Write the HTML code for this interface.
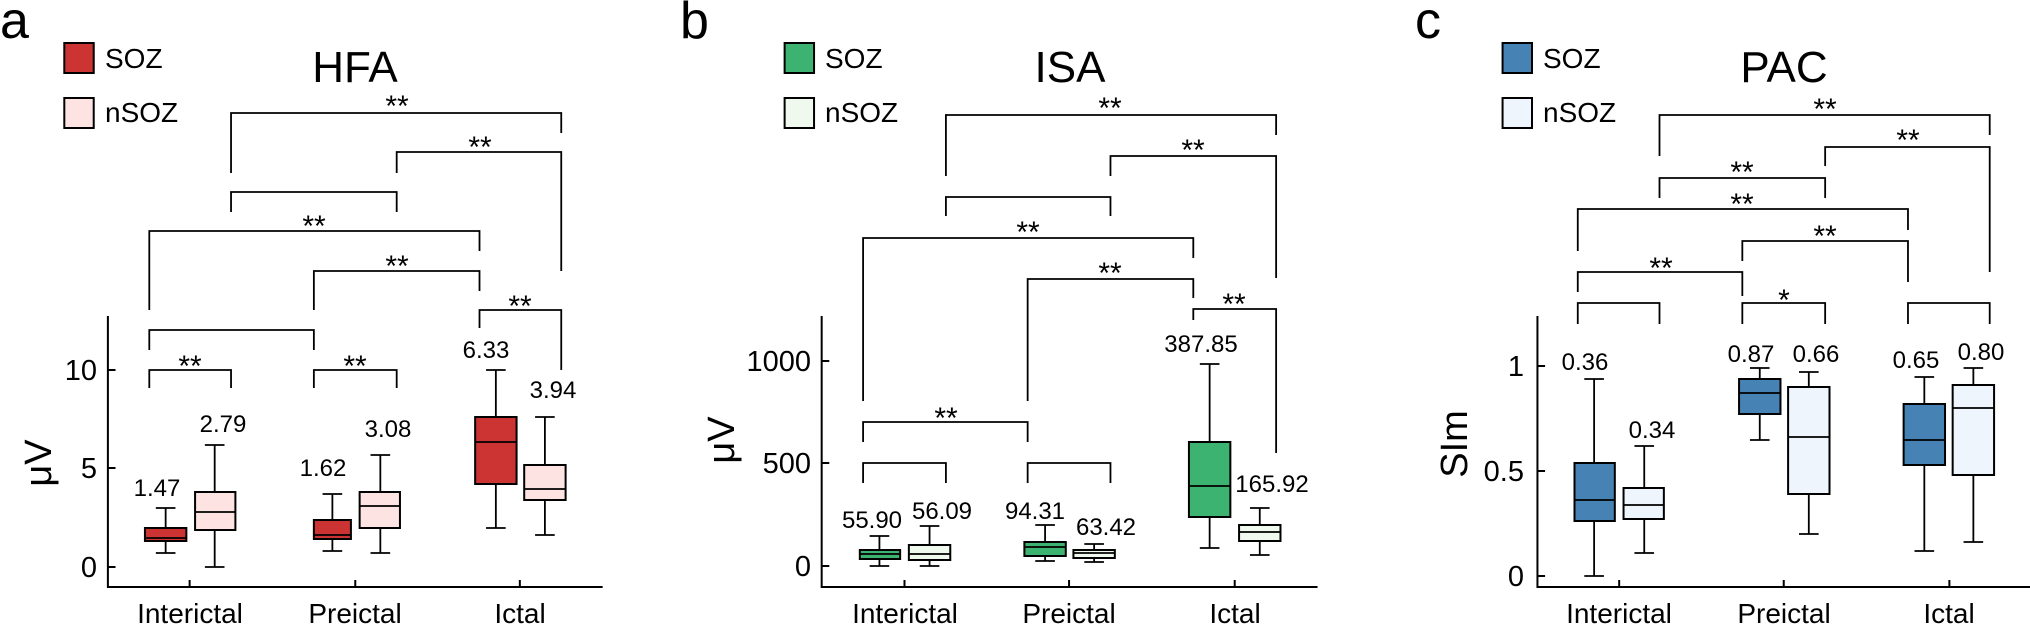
<!DOCTYPE html>
<html><head><meta charset="utf-8"><style>
html,body{margin:0;padding:0;background:#fff}
svg{display:block}
text{font-family:"Liberation Sans",Arial,sans-serif;fill:#000}
.v{font-size:24px;text-anchor:middle}
.s{font-size:30px;text-anchor:middle}
.t{font-size:29px;text-anchor:end}
.c{font-size:28px;text-anchor:middle}
.yl{font-size:38px;text-anchor:middle}
path,rect{vector-effect:non-scaling-stroke}
.br{fill:none;stroke:#000;stroke-width:1.8}
.ax{fill:none;stroke:#000;stroke-width:2}
.wh{stroke:#000;stroke-width:1.8;fill:none}
.bx{stroke:#000;stroke-width:2}
</style></head><body>
<svg width="2030" height="625" viewBox="0 0 2030 625" xmlns="http://www.w3.org/2000/svg">
<!-- ================= Panel a ================= -->
<text x="0" y="38" font-size="52">a</text>
<g transform="scale(1.0898,1)">
<rect x="59" y="43" width="27" height="30" fill="#cc3333" stroke="#000" stroke-width="2"/>
<rect x="59" y="98" width="27" height="30" fill="#fde3e1" stroke="#000" stroke-width="2"/>
<path class="ax" d="M99 316 V587 H553 M174 587 V580 M326 587 V580 M477 587 V580 M99 567 H106 M99 468 H106 M99 370 H106"/>
<path class="wh" d="M152 553 V508 M143 553 H161 M143 508 H161"/><rect class="bx" x="133" y="528" width="38" height="13" fill="#cc3333"/><path class="wh" d="M133 538 H171"/>
<path class="wh" d="M197 567 V445 M188 567 H206 M188 445 H206"/><rect class="bx" x="179" y="492" width="37" height="38" fill="#fde3e1"/><path class="wh" d="M179 512 H216"/>
<path class="wh" d="M305 551 V494 M296 551 H314 M296 494 H314"/><rect class="bx" x="288" y="520" width="34" height="19" fill="#cc3333"/><path class="wh" d="M288 535 H322"/>
<path class="wh" d="M349 553 V455 M340 553 H358 M340 455 H358"/><rect class="bx" x="330" y="492" width="37" height="36" fill="#fde3e1"/><path class="wh" d="M330 506 H367"/>
<path class="wh" d="M455 528 V370 M446 528 H464 M446 370 H464"/><rect class="bx" x="436" y="417" width="38" height="67" fill="#cc3333"/><path class="wh" d="M436 442 H474"/>
<path class="wh" d="M500 535 V417 M491 535 H509 M491 417 H509"/><rect class="bx" x="481" y="465" width="38" height="35" fill="#fde3e1"/><path class="wh" d="M481 489 H519"/>
<path class="br" d="M137 388 V370 H212 V388 M288 388 V370 H364 V388 M137 350 V330 H288 V350 M440 328 V310 H515 V370 M288 310 V271 H440 V291 M137 310 V231 H440 V251 M212 212 V192 H364 V212 M364 173 V152 H515 V271 M212 173 V113 H515 V133"/>
</g>
<text x="105" y="68" font-size="28">SOZ</text>
<text x="105" y="122" font-size="28">nSOZ</text>
<text x="355" y="82" font-size="44" text-anchor="middle">HFA</text>
<text class="t" x="97" y="577">0</text><text class="t" x="97" y="478">5</text><text class="t" x="97" y="380">10</text>
<text class="yl" x="41" y="463" transform="rotate(-90 41 463)" dominant-baseline="middle">μV</text>
<text class="c" x="190" y="623">Interictal</text><text class="c" x="355" y="623">Preictal</text><text class="c" x="520" y="623">Ictal</text>
<text class="v" x="157" y="496">1.47</text><text class="v" x="223" y="432">2.79</text>
<text class="v" x="323" y="476">1.62</text><text class="v" x="388" y="437">3.08</text>
<text class="v" x="486" y="358">6.33</text><text class="v" x="553" y="398">3.94</text>
<text class="s" x="190" y="376">**</text><text class="s" x="355" y="376">**</text>
<text class="s" x="520" y="316">**</text><text class="s" x="397" y="276">**</text>
<text class="s" x="314" y="236">**</text><text class="s" x="480" y="157">**</text><text class="s" x="397" y="116">**</text>

<!-- ================= Panel b ================= -->
<text x="680" y="38" font-size="52">b</text>
<g transform="translate(680,0) scale(1.0898,1) translate(-680,0)">
<rect x="776" y="43" width="27" height="30" fill="#3cb371" stroke="#000" stroke-width="2"/>
<rect x="776" y="98" width="27" height="30" fill="#f0f9ee" stroke="#000" stroke-width="2"/>
<path class="ax" d="M810 316 V587 H1265 M886 587 V580 M1037 587 V580 M1189 587 V580 M810 566 H817 M810 463 H817 M810 361 H817"/>
<path class="wh" d="M863 566 V536 M854 566 H872 M854 536 H872"/><rect class="bx" x="845" y="550" width="37" height="9" fill="#3cb371"/><path class="wh" d="M845 554 H882"/>
<path class="wh" d="M909 566 V526 M900 566 H918 M900 526 H918"/><rect class="bx" x="890" y="545" width="38" height="15" fill="#f0f9ee"/><path class="wh" d="M890 554 H928"/>
<path class="wh" d="M1015 561 V525 M1006 561 H1024 M1006 525 H1024"/><rect class="bx" x="996" y="542" width="38" height="14" fill="#3cb371"/><path class="wh" d="M996 547 H1034"/>
<path class="wh" d="M1060 562 V544 M1051 562 H1069 M1051 544 H1069"/><rect class="bx" x="1041" y="550" width="38" height="8" fill="#f0f9ee"/><path class="wh" d="M1041 553 H1079"/>
<path class="wh" d="M1166 548 V364 M1157 548 H1175 M1157 364 H1175"/><rect class="bx" x="1147" y="442" width="38" height="75" fill="#3cb371"/><path class="wh" d="M1147 486 H1185"/>
<path class="wh" d="M1212 555 V508 M1203 555 H1221 M1203 508 H1221"/><rect class="bx" x="1193" y="525" width="38" height="16" fill="#f0f9ee"/><path class="wh" d="M1193 532 H1231"/>
<path class="br" d="M848 483 V463 H924 V483 M999 483 V463 H1075 V483 M848 442 V422 H999 V442 M1151 320 V309 H1227 V453 M999 401 V279 H1151 V298 M848 401 V238 H1151 V258 M924 216 V197 H1075 V216 M1075 176 V156 H1227 V278 M924 176 V115 H1227 V135"/>
</g>
<text x="825" y="68" font-size="28">SOZ</text>
<text x="825" y="122" font-size="28">nSOZ</text>
<text x="1070" y="82" font-size="44" text-anchor="middle">ISA</text>
<text class="t" x="811" y="576">0</text><text class="t" x="811" y="473">500</text><text class="t" x="811" y="371">1000</text>
<text class="yl" x="724" y="440" transform="rotate(-90 724 440)" dominant-baseline="middle">μV</text>
<text class="c" x="905" y="623">Interictal</text><text class="c" x="1069" y="623">Preictal</text><text class="c" x="1235" y="623">Ictal</text>
<text class="v" x="872" y="528">55.90</text><text class="v" x="942" y="519">56.09</text>
<text class="v" x="1035" y="519">94.31</text><text class="v" x="1106" y="535">63.42</text>
<text class="v" x="1201" y="352">387.85</text><text class="v" x="1272" y="492">165.92</text>
<text class="s" x="946" y="428">**</text><text class="s" x="1234" y="314">**</text>
<text class="s" x="1110" y="283">**</text><text class="s" x="1028" y="242">**</text>
<text class="s" x="1193" y="160">**</text><text class="s" x="1110" y="118">**</text>

<!-- ================= Panel c ================= -->
<text x="1415" y="38" font-size="52">c</text>
<g transform="translate(1350,0) scale(1.0898,1) translate(-1350,0)">
<rect x="1490" y="43" width="27" height="30" fill="#4682b4" stroke="#000" stroke-width="2"/>
<rect x="1490" y="98" width="27" height="30" fill="#eef5fd" stroke="#000" stroke-width="2"/>
<path class="ax" d="M1522 316 V587 H2030 M1597 587 V580 M1748 587 V580 M1900 587 V580 M1522 576 H1529 M1522 471 H1529 M1522 366 H1529"/>
<path class="wh" d="M1574 576 V379 M1565 576 H1583 M1565 379 H1583"/><rect class="bx" x="1556" y="463" width="37" height="58" fill="#4682b4"/><path class="wh" d="M1556 500 H1593"/>
<path class="wh" d="M1620 553 V446 M1611 553 H1629 M1611 446 H1629"/><rect class="bx" x="1601" y="488" width="37" height="31" fill="#eef5fd"/><path class="wh" d="M1601 505 H1638"/>
<path class="wh" d="M1726 440 V368 M1717 440 H1735 M1717 368 H1735"/><rect class="bx" x="1707" y="379" width="38" height="35" fill="#4682b4"/><path class="wh" d="M1707 393 H1745"/>
<path class="wh" d="M1771 534 V372 M1762 534 H1780 M1762 372 H1780"/><rect class="bx" x="1752" y="387" width="38" height="107" fill="#eef5fd"/><path class="wh" d="M1752 437 H1790"/>
<path class="wh" d="M1877 551 V377 M1868 551 H1886 M1868 377 H1886"/><rect class="bx" x="1858" y="404" width="38" height="61" fill="#4682b4"/><path class="wh" d="M1858 440 H1896"/>
<path class="wh" d="M1922 542 V368 M1913 542 H1931 M1913 368 H1931"/><rect class="bx" x="1903" y="385" width="38" height="90" fill="#eef5fd"/><path class="wh" d="M1903 408 H1941"/>
<path class="br" d="M1559 324 V303 H1634 V324 M1710 324 V303 H1786 V324 M1862 324 V303 H1937 V324 M1559 292 V272 H1710 V296 M1710 261 V241 H1862 V282 M1559 251 V209 H1862 V230 M1634 198 V178 H1786 V198 M1786 166 V147 H1937 V272 M1634 156 V115 H1937 V135"/>
</g>
<text x="1543" y="68" font-size="28">SOZ</text>
<text x="1543" y="122" font-size="28">nSOZ</text>
<text x="1784" y="82" font-size="44" text-anchor="middle">PAC</text>
<text class="t" x="1524" y="586">0</text><text class="t" x="1524" y="481">0.5</text><text class="t" x="1524" y="376">1</text>
<text class="yl" x="1457" y="444" transform="rotate(-90 1457 444)" dominant-baseline="middle">SIm</text>
<text class="c" x="1619" y="623">Interictal</text><text class="c" x="1784" y="623">Preictal</text><text class="c" x="1949" y="623">Ictal</text>
<text class="v" x="1585" y="370">0.36</text><text class="v" x="1652" y="438">0.34</text>
<text class="v" x="1751" y="362">0.87</text><text class="v" x="1816" y="362">0.66</text>
<text class="v" x="1916" y="368">0.65</text><text class="v" x="1981" y="360">0.80</text>
<text class="s" x="1784" y="310">*</text><text class="s" x="1661" y="278">**</text>
<text class="s" x="1825" y="246">**</text><text class="s" x="1742" y="214">**</text>
<text class="s" x="1742" y="182">**</text><text class="s" x="1908" y="150">**</text><text class="s" x="1825" y="119">**</text>
</svg>
</body></html>
